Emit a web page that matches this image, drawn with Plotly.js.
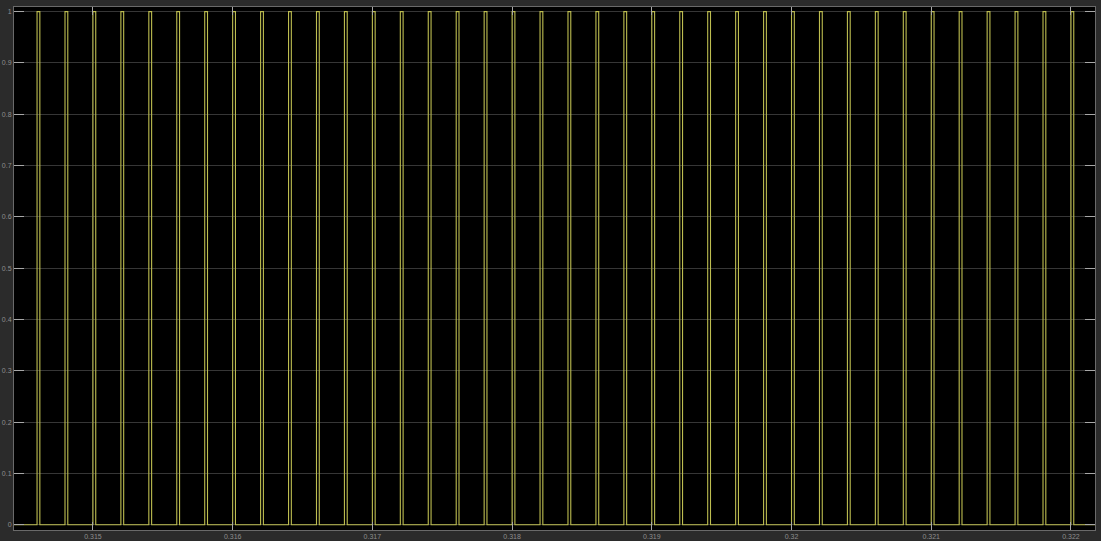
<!DOCTYPE html>
<html>
<head>
<meta charset="utf-8">
<script src="https://cdn.plot.ly/plotly-3.0.1.min.js"></script>
<style>
  html, body { margin: 0; padding: 0; background: #2b2b2b; }
  #scope { width: 1101px; height: 541px; }
</style>
</head>
<body>
<div id="scope"></div>
<script>
// Gate pulse train seen on the scope (time in seconds, level 0/1)
const startTime = 0.3144;
const endTime = 0.3223;
const riseTimes = [
  0.3146, 0.3148, 0.3150, 0.3152, 0.3154, 0.3156, 0.3158, 0.3160, 0.3162, 0.3164,
  0.3166, 0.3168, 0.3170, 0.3172, 0.3174, 0.3176, 0.3178, 0.3180, 0.3182, 0.3184,
  0.3186, 0.3188, 0.3190, 0.3192, 0.3194, 0.3196, 0.3198, 0.3200, 0.3202, 0.3204,
  0.3206, 0.3208, 0.3210, 0.3212, 0.3214, 0.3216, 0.3218, 0.3220, 0.3222
];
const fallTimes = [
  0.31462, 0.31482, 0.31502, 0.31522, 0.31542, 0.31562, 0.31582, 0.31602, 0.31622, 0.31642,
  0.31662, 0.31682, 0.31702, 0.31722, 0.31742, 0.31762, 0.31782, 0.31802, 0.31822, 0.31842,
  0.31862, 0.31882, 0.31902, 0.31922, 0.31942, 0.31962, 0.31982, 0.32002, 0.32022, 0.32042,
  0.32062, 0.32082, 0.32102, 0.32122, 0.32142, 0.32162, 0.32182, 0.32202, 0.32222
];
const xTicks = [0.315, 0.316, 0.317, 0.318, 0.319, 0.32, 0.321, 0.322];
const xTickText = ['0.315', '0.316', '0.317', '0.318', '0.319', '0.32', '0.321', '0.322'];
const yTicks = [0, 0.1, 0.2, 0.3, 0.4, 0.5, 0.6, 0.7, 0.8, 0.9, 1];
const yTickText = ['0', '0.1', '0.2', '0.3', '0.4', '0.5', '0.6', '0.7', '0.8', '0.9', '1'];

// Build the step waveform: low until each rise, high until the matching fall
const tx = [startTime];
const ty = [0];
for (let i = 0; i < riseTimes.length; i++) {
  tx.push(riseTimes[i]); ty.push(1);
  tx.push(fallTimes[i]); ty.push(0);
}
tx.push(endTime); ty.push(0);

const trace = {
  x: tx,
  y: ty,
  type: 'scatter',
  mode: 'lines',
  line: { shape: 'hv', color: '#bdbd50', width: 1.1 },
  hoverinfo: 'skip'
};

const tickFont = { family: 'Liberation Sans, Arial, sans-serif', size: 7, color: '#8e8e8e' };

const layout = {
  width: 1101,
  height: 541,
  margin: { l: 14, r: 6, t: 7, b: 11, pad: 0 },
  paper_bgcolor: '#2b2b2b',
  plot_bgcolor: '#000000',
  showlegend: false,
  xaxis: {
    range: [0.314435, 0.322172],
    tickvals: xTicks,
    ticktext: xTickText,
    ticks: 'inside',
    ticklen: 8,
    tickcolor: '#a8a8a8',
    tickwidth: 1,
    tickfont: tickFont,
    showgrid: true,
    gridcolor: '#363636',
    gridwidth: 1,
    zeroline: false,
    showline: true,
    linecolor: '#6a6a6a',
    linewidth: 1,
    mirror: 'ticks'
  },
  yaxis: {
    range: [-0.0103, 1.009],
    tickvals: yTicks,
    ticktext: yTickText,
    ticks: 'inside',
    ticklen: 10,
    tickcolor: '#a8a8a8',
    tickwidth: 1,
    tickfont: tickFont,
    showgrid: true,
    gridcolor: '#363636',
    gridwidth: 1,
    zeroline: false,
    showline: true,
    linecolor: '#6a6a6a',
    linewidth: 1,
    mirror: 'ticks'
  }
};

Plotly.newPlot('scope', [trace], layout, { staticPlot: true, displayModeBar: false });
</script>
</body>
</html>
